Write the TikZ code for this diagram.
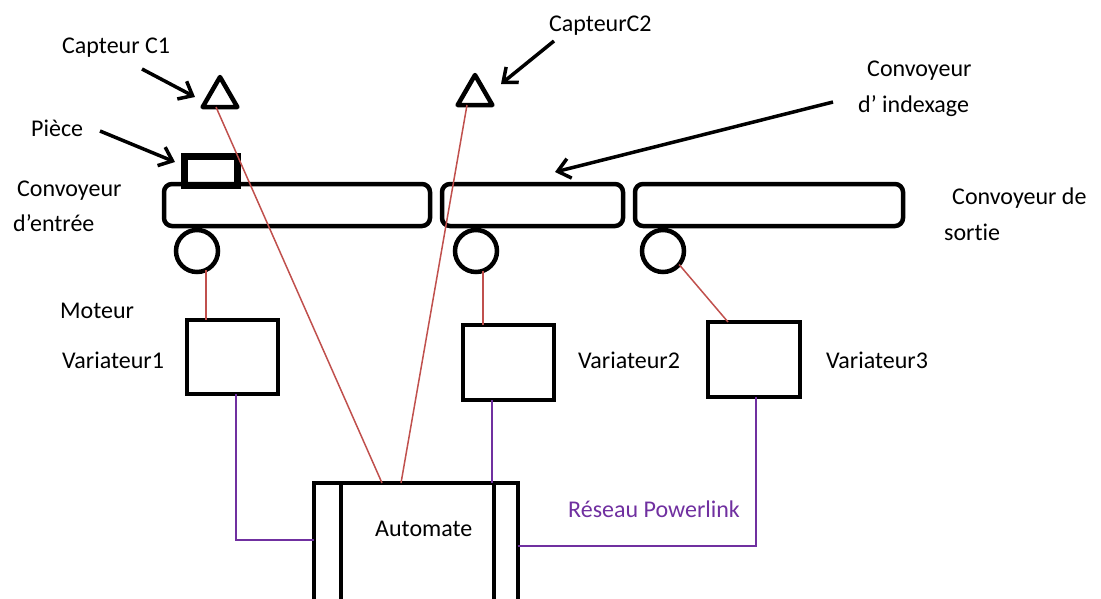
\documentclass[tikz,border=0pt]{standalone}
\usepackage{fontspec}
\setmainfont[Ligatures=CommonOff]{Carlito}
\usetikzlibrary{arrows.meta,shapes.geometric}
\definecolor{sigred}{HTML}{C0504D}
\definecolor{netpurple}{HTML}{7030A0}
\begin{document}
\begin{tikzpicture}[x=1pt,y=-1pt,
  lbl/.style={font=\fontsize{24}{29}\selectfont, inner sep=0pt, anchor=base west},
  blk/.style={draw=black, line width=4.5pt, inner sep=0pt, outer sep=0pt},
  conv/.style={blk, rounded corners=8pt},
  wheel/.style={blk, circle, minimum size=42pt},
  sensor/.style={draw=black, line width=4.5pt, line join=round, regular polygon, regular polygon sides=3, minimum size=40pt, inner sep=0pt, outer sep=0pt},
  ptr/.style={line width=3.5pt, -{Straight Barb[length=12pt,width=20pt]}},
  sig/.style={draw=sigred, line width=1.5pt},
  net/.style={draw=netpurple, line width=1.8pt}]
\useasboundingbox (0,0) rectangle (1101,598);
\clip (0,0) rectangle (1101,598);

% piece and conveyors
\node[blk, line width=7pt, minimum width=53pt, minimum height=29pt] (piece) at (210.5,170.5) {};
\node[conv, minimum width=266pt, minimum height=42pt] (c1) at (297,205) {};
\node[conv, minimum width=181pt, minimum height=42pt] (c2) at (532.5,205) {};
\node[conv, minimum width=268pt, minimum height=42pt] (c3) at (769,205) {};
\node[wheel] (w1) at (197,251) {};
\node[wheel] (w2) at (476,251) {};
\node[wheel] (w3) at (663,251) {};

% sensors
\node[sensor] (t1) at (220,97) {};
\node[sensor] (t2) at (475,95) {};

% drives
\node[blk, minimum width=91pt, minimum height=74pt] (v1) at (232.5,357) {};
\node[blk, minimum width=91pt, minimum height=75pt] (v2) at (508.5,362.5) {};
\node[blk, minimum width=92pt, minimum height=75pt] (v3) at (754,359.5) {};

% PLC
\node[blk, minimum width=204pt, minimum height=154pt] (auto) at (416,560) {};
\draw[line width=4.5pt] ([xshift=27pt]auto.north west) -- ([xshift=27pt]auto.south west);
\draw[line width=4.5pt] ([xshift=-24pt]auto.north east) -- ([xshift=-24pt]auto.south east);

% labels
\node[lbl] (lc1) at (62,53) {Capteur C1};
\node[lbl] (lc2) at (549,31) {CapteurC2};
\node[lbl] (lpiece) at (31,136) {Pièce};
\node[lbl] (lce1) at (17,196) {Convoyeur};
\node[lbl] (lce2) at (13,231) {d’entrée};
\node[lbl] (lci1) at (867,76) {Convoyeur};
\node[lbl] (lci2) at (858,112) {d’ indexage};
\node[lbl] (lcs1) at (952,204) {Convoyeur de};
\node[lbl] (lcs2) at (944,240) {sortie};
\node[lbl] (lmot) at (60,318) {Moteur};
\node[lbl] (lv1) at (62,368) {Variateur1};
\node[lbl] (lv2) at (578,368) {Variateur2};
\node[lbl] (lv3) at (826,368) {Variateur3};
\node[lbl] (lauto) at (375,536) {Automate};
\node[lbl, text=netpurple] (lnet) at (568,517) {Réseau Powerlink};

% pointer arrows
\coordinate (a1s) at (142,69);  \coordinate (a1e) at (195,97);
\coordinate (a2s) at (554,41);  \coordinate (a2e) at (501,84);
\coordinate (a3s) at (100,131); \coordinate (a3e) at (175,162);
\coordinate (a4s) at (833,102); \coordinate (a4e) at (555,172);
\draw[ptr] (a1s) -- (a1e);
\draw[ptr] (a2s) -- (a2e);
\draw[ptr] (a3s) -- (a3e);
\draw[ptr] (a4s) -- (a4e);

% signal wires
\draw[sig] (w1.-65) -- (v1.north -| w1.-65);
\draw[sig] (w2.-70) -- (v2.north -| w2.-70);
\draw[sig] (w3.-40) -- ([xshift=-26pt]v3.north);
\draw[sig] ([xshift=-4pt]t1.south) -- ([xshift=-34pt]auto.north);
\draw[sig] ([xshift=-8pt]t2.south) -- ([xshift=-15pt]auto.north);

% network
\draw[net] ([xshift=3.5pt]v1.south) |- ([yshift=20pt]auto.west);
\draw[net] ([xshift=-16.5pt]v2.south) -- ([xshift=-16.5pt]v2.south |- auto.north);
\draw[net] ([xshift=2pt]v3.south) |- ([yshift=14pt]auto.east);
\end{tikzpicture}
\end{document}
